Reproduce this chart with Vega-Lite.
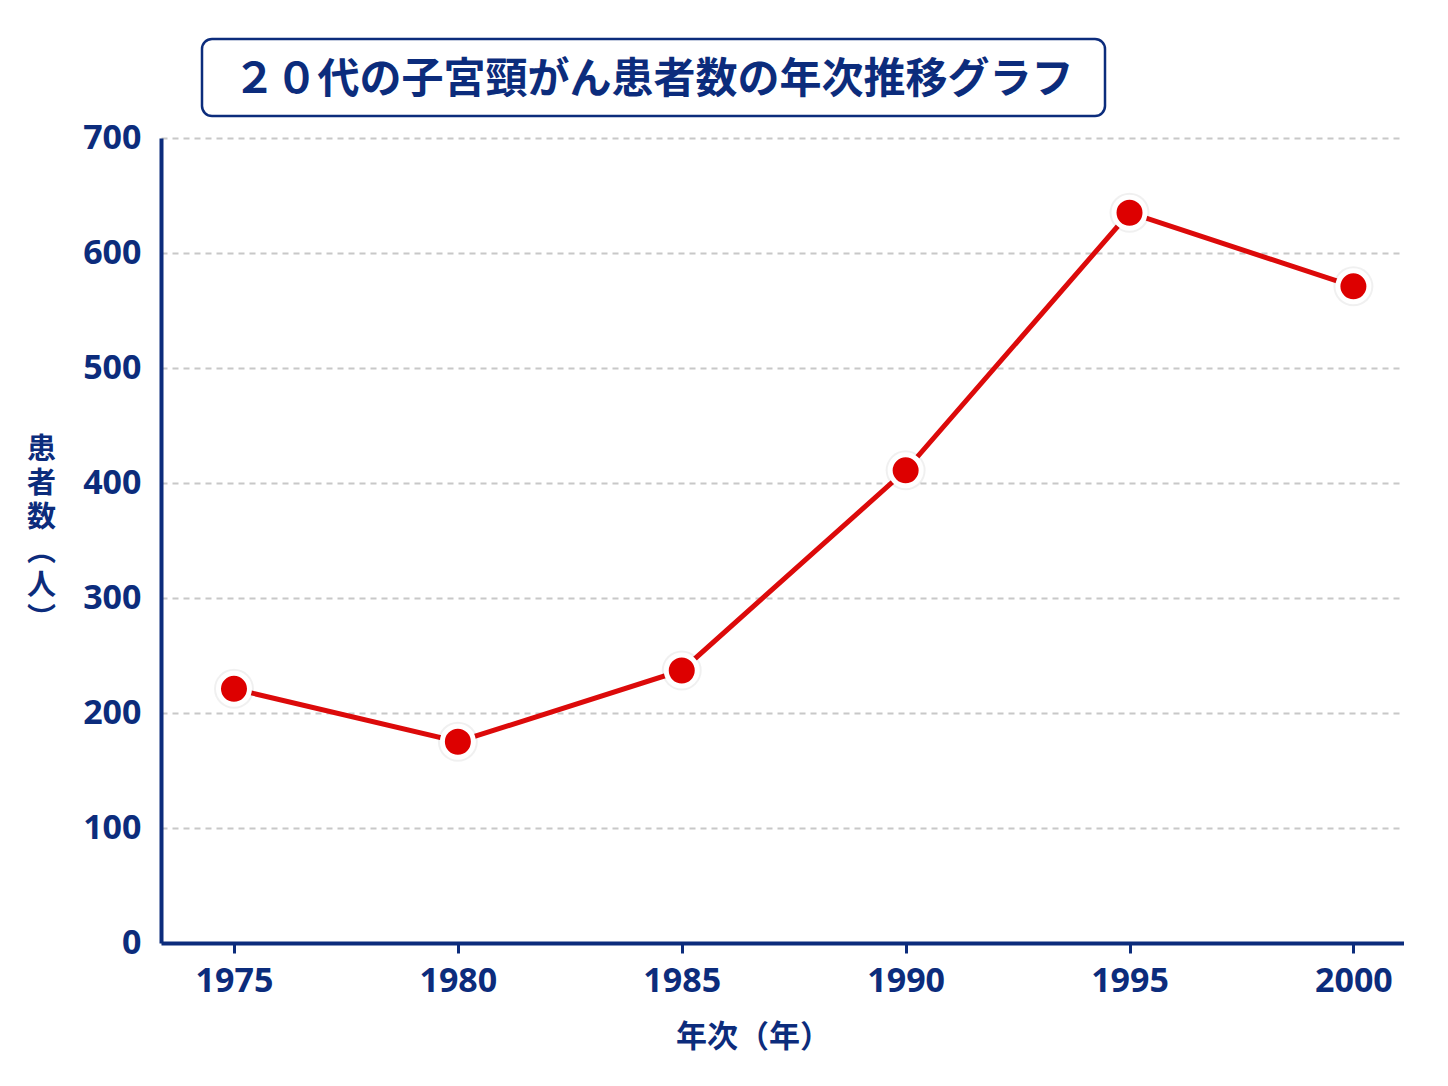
{
  "$schema": "https://vega.github.io/schema/vega-lite/v6.json",
  "background": "white",
  "autosize": {"type": "pad"},
  "padding": {"left": 26, "top": 37, "right": 0, "bottom": 20},
  "config": {"view": {"stroke": null}},
  "bounds": "full",
  "spacing": 3,
  "vconcat": [
    {
      "bounds": "flush",
      "spacing": 0,
      "hconcat": [
        {
          "width": 41,
          "height": 77,
          "data": {"values": [{"t": ""}]},
          "mark": {"type": "text"},
          "encoding": {"text": {"field": "t"}}
        },
        {
          "width": 903,
          "height": 77,
          "view": {"stroke": "#0c2c7c", "strokeWidth": 2.5, "cornerRadius": 10, "fill": "white"},
          "data": {"values": [{"title": "２０代の子宮頸がん患者数の年次推移グラフ"}]},
          "mark": {"type": "text", "font": "Noto Sans CJK JP", "fontWeight": "bold", "fontSize": 42, "color": "#0c2c7c", "dx": 0, "dy": 2},
          "encoding": {"text": {"field": "title"}}
        }
      ]
    },
    {
      "width": 1243,
      "height": 805,
      "data": {
        "values": [
          {"year": 1975, "patients": 221},
          {"year": 1980, "patients": 175},
          {"year": 1985, "patients": 237},
          {"year": 1990, "patients": 411},
          {"year": 1995, "patients": 635},
          {"year": 2000, "patients": 571}
        ]
      },
      "encoding": {
        "x": {
          "field": "year",
          "type": "quantitative",
          "scale": {"domain": [1973.37, 2001.13], "nice": false, "zero": false},
          "axis": {
            "values": [1975, 1980, 1985, 1990, 1995, 2000],
            "format": "d",
            "grid": false,
            "zindex": 1,
            "domainColor": "#0c2c7c",
            "domainWidth": 4,
            "tickColor": "#0c2c7c",
            "tickSize": 10,
            "tickWidth": 3,
            "labelFont": "Noto Sans",
            "labelFontSize": 34,
            "labelFontWeight": "bold",
            "labelColor": "#0c2c7c",
            "labelPadding": 11,
            "title": "年次（年）",
            "titleFont": "Noto Sans CJK JP",
            "titleFontSize": 31,
            "titleFontWeight": "bold",
            "titleColor": "#0c2c7c",
            "titleX": 592,
            "titleY": 103,
            "titleAlign": "center",
            "titleBaseline": "alphabetic"
          }
        },
        "y": {
          "field": "patients",
          "type": "quantitative",
          "scale": {"domain": [0, 700], "nice": false},
          "axis": {
            "values": [0, 100, 200, 300, 400, 500, 600, 700],
            "grid": true,
            "gridColor": "#c8c8c8",
            "gridWidth": 2,
            "gridDash": [6, 5],
            "ticks": false,
            "domainColor": "#0c2c7c",
            "domainWidth": 4,
            "labelFont": "Noto Sans",
            "labelFontSize": 34,
            "labelFontWeight": "bold",
            "labelColor": "#0c2c7c",
            "labelPadding": 20,
            "title": ["患", "者", "数", "︵", "人", "︶"],
            "titleFont": "Noto Sans CJK JP",
            "titleFontSize": 29,
            "titleFontWeight": "bold",
            "titleColor": "#0c2c7c",
            "titleAngle": 0,
            "titleLineHeight": 34,
            "titleX": -120,
            "titleY": 297,
            "titleAlign": "center",
            "titleBaseline": "top"
          }
        }
      },
      "layer": [
        {"mark": {"type": "line", "color": "#dc0a0a", "strokeWidth": 5}},
        {"mark": {"type": "point", "shape": "circle", "filled": true, "size": 1600, "color": "#000000", "opacity": 0.06}},
        {"mark": {"type": "point", "shape": "circle", "filled": true, "size": 961, "fill": "#dd0000", "stroke": "white", "strokeWidth": 5, "opacity": 1}}
      ]
    }
  ]
}
